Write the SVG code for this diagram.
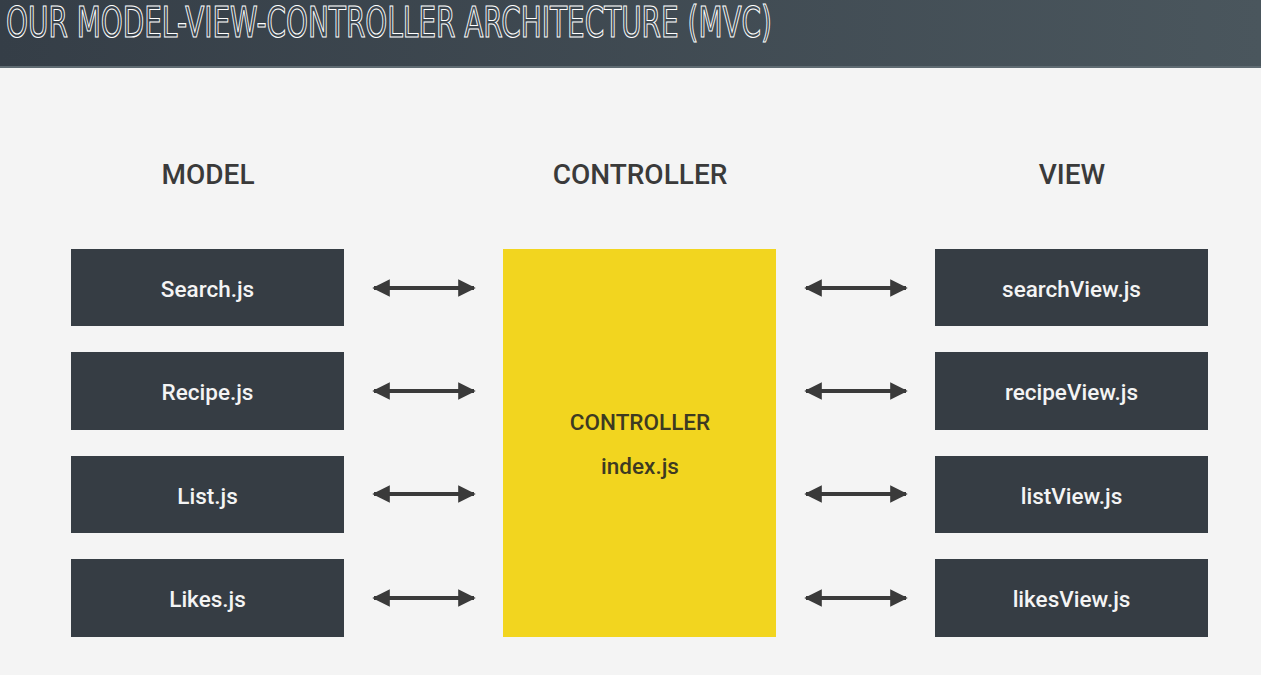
<svg xmlns="http://www.w3.org/2000/svg" width="1261" height="675" viewBox="0 0 1261 675">
<defs>
<linearGradient id="hdr" x1="0" y1="0" x2="1" y2="0">
<stop offset="0" stop-color="#353e47"/>
<stop offset="1" stop-color="#4a565d"/>
</linearGradient>
<marker id="ah" viewBox="0 0 10 10" refX="9" refY="5" markerWidth="4.4" markerHeight="4.4" orient="auto-start-reverse" markerUnits="strokeWidth">
<path d="M0,0 L10,5 L0,10 Z" fill="#3a3a3a"/>
</marker>
<style>
.box{fill:#363d44}
.lbl{font-family:Roboto,"Liberation Sans",sans-serif;font-size:22.5px;font-weight:500;fill:#f4f4f4;text-anchor:middle}
.hd{font-family:Roboto,"Liberation Sans",sans-serif;font-size:28px;font-weight:500;fill:#3a3a3a;text-anchor:middle}
.ctl{font-family:Roboto,"Liberation Sans",sans-serif;font-size:22.5px;font-weight:500;fill:#3d3a22;text-anchor:middle}
.arr{stroke:#3a3a3a;stroke-width:4;fill:none;marker-start:url(#ah);marker-end:url(#ah)}
</style>
</defs>
<rect width="1261" height="675" fill="#f4f4f4"/>
<g id="header">
<rect width="1261" height="67" fill="url(#hdr)"/>
<rect y="66" width="1261" height="2" fill="#5f6b72"/>
<text x="6" y="37" textLength="766" lengthAdjust="spacingAndGlyphs" font-family="'DejaVu Sans Condensed','Liberation Sans Narrow',sans-serif" font-size="42" fill="none" stroke="#ffffff" stroke-width="1.1">OUR MODEL-VIEW-CONTROLLER ARCHITECTURE (MVC)</text>
</g>
<g id="headings">
<text class="hd" x="208" y="184">MODEL</text>
<text class="hd" x="640" y="184">CONTROLLER</text>
<text class="hd" x="1072" y="184">VIEW</text>
</g>
<g id="model-search"><rect class="box" x="71" y="249" width="273" height="77"/><text class="lbl" x="207.5" y="297">Search.js</text></g>
<g id="model-recipe"><rect class="box" x="71" y="352" width="273" height="78"/><text class="lbl" x="207.5" y="400">Recipe.js</text></g>
<g id="model-list"><rect class="box" x="71" y="456" width="273" height="77"/><text class="lbl" x="207.5" y="504">List.js</text></g>
<g id="model-likes"><rect class="box" x="71" y="559" width="273" height="78"/><text class="lbl" x="207.5" y="607">Likes.js</text></g>
<g id="controller"><rect x="503" y="249" width="273" height="388" fill="#f2d51f"/><text class="ctl" x="640" y="430">CONTROLLER</text><text class="ctl" x="640" y="474">index.js</text></g>
<g id="view-search"><rect class="box" x="935" y="249" width="273" height="77"/><text class="lbl" x="1071.5" y="297">searchView.js</text></g>
<g id="view-recipe"><rect class="box" x="935" y="352" width="273" height="78"/><text class="lbl" x="1071.5" y="400">recipeView.js</text></g>
<g id="view-list"><rect class="box" x="935" y="456" width="273" height="77"/><text class="lbl" x="1071.5" y="504">listView.js</text></g>
<g id="view-likes"><rect class="box" x="935" y="559" width="273" height="78"/><text class="lbl" x="1071.5" y="607">likesView.js</text></g>
<g id="connectors">
<line class="arr" x1="374" y1="288" x2="474" y2="288"/>
<line class="arr" x1="374" y1="391" x2="474" y2="391"/>
<line class="arr" x1="374" y1="494" x2="474" y2="494"/>
<line class="arr" x1="374" y1="598" x2="474" y2="598"/>
<line class="arr" x1="806" y1="288" x2="906" y2="288"/>
<line class="arr" x1="806" y1="391" x2="906" y2="391"/>
<line class="arr" x1="806" y1="494" x2="906" y2="494"/>
<line class="arr" x1="806" y1="598" x2="906" y2="598"/>
</g>
</svg>
